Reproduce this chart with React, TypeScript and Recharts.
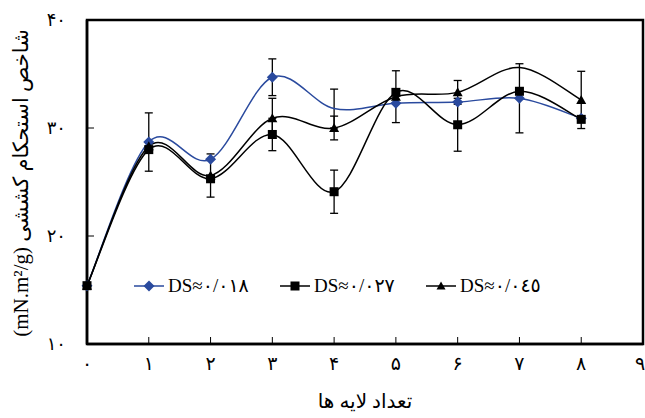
import { LineChart, Line, XAxis, YAxis, ErrorBar, ReferenceArea, Legend, Label } from "recharts";

const layers = [0, 1, 2, 3, 4, 5, 6, 7, 8];
const ds018 = [15.4, 28.7, 27.1, 34.7, 31.8, 32.3, 32.4, 32.75, 30.9];
const ds027 = [15.4, 28.0, 25.3, 29.4, 24.1, 33.3, 30.3, 33.4, 30.8];
const ds045 = [15.4, 28.3, 25.6, 30.9, 30.0, 32.9, 33.3, 35.6, 32.6];
const err018 = [null, 2.7, null, 1.7, 1.8, null, null, 3.2, null];
const err027 = [null, null, null, 1.5, 2.0, null, 2.45, null, null];
const err045 = [null, null, 2.0, 1.85, 1.1, 2.4, 1.1, null, 2.65];
// points drawn without a marker in the original figure
const noMark018 = [4];
const noMark045 = [7];

const xTicks = [0, 1, 2, 3, 4, 5, 6, 7, 8, 9];
const xTickLabels = ["۰", "۱", "۲", "۳", "۴", "۵", "۶", "۷", "۸", "۹"];
const yTicks = [10, 20, 30, 40];
const yTickLabels = ["۱۰", "۲۰", "۳۰", "۴۰"];
const legendNames = ["DS≈۰/۰۱۸", "DS≈۰/۰۲۷", "DS≈۰/۰٤٥"];

const data = layers.map((l, i) => ({
  layer: l,
  a: ds018[i],
  b: ds027[i],
  c: ds045[i],
  ea: err018[i],
  eb: err027[i],
  ec: err045[i],
}));

const BLUE = "#2a4a9e";
const FONT = "'Liberation Serif', 'DejaVu Serif', 'DejaVu Sans', serif";

// Catmull-Rom style smoothing (like spreadsheet "smoothed line")
function smoothCurve(context: any) {
  let pts: number[][] = [];
  return {
    areaStart() {},
    areaEnd() {},
    lineStart() {
      pts = [];
    },
    point(x: number, y: number) {
      pts.push([+x, +y]);
    },
    lineEnd() {
      const n = pts.length;
      if (!n) return;
      context.moveTo(pts[0][0], pts[0][1]);
      for (let i = 0; i < n - 1; i++) {
        const p0 = pts[Math.max(i - 1, 0)];
        const p1 = pts[i];
        const p2 = pts[i + 1];
        const p3 = pts[Math.min(i + 2, n - 1)];
        context.bezierCurveTo(
          p1[0] + (p2[0] - p0[0]) / 6,
          p1[1] + (p2[1] - p0[1]) / 6,
          p2[0] - (p3[0] - p1[0]) / 6,
          p2[1] - (p3[1] - p1[1]) / 6,
          p2[0],
          p2[1]
        );
      }
    },
  };
}

const diamond = (cx: number, cy: number, r = 5.5) =>
  `M${cx},${cy - r}L${cx + r},${cy}L${cx},${cy + r}L${cx - r},${cy}Z`;
const triangle = (cx: number, cy: number, r = 5) =>
  `M${cx},${cy - r}L${cx + r},${cy + r * 0.8}L${cx - r},${cy + r * 0.8}Z`;

const DiamondDot = (p: any) =>
  noMark018.includes(p.payload.layer) ? (
    <g key={p.index} />
  ) : (
    <path key={p.index} d={diamond(p.cx, p.cy)} fill={BLUE} />
  );
const SquareDot = (p: any) => (
  <rect key={p.index} x={p.cx - 4.5} y={p.cy - 4.5} width={9} height={9} fill="#000" />
);
const TriangleDot = (p: any) =>
  noMark045.includes(p.payload.layer) ? (
    <g key={p.index} />
  ) : (
    <path key={p.index} d={triangle(p.cx, p.cy)} fill="#000" />
  );

const LegendContent = () => {
  const marks = [
    <path d={diamond(16, 9)} fill={BLUE} />,
    <rect x={11.5} y={4.5} width={9} height={9} fill="#000" />,
    <path d={triangle(16, 9, 4.5)} fill="#000" />,
  ];
  const colors = [BLUE, "#000", "#000"];
  return (
    <div style={{ display: "flex", fontFamily: FONT, fontSize: 19, color: "#000" }}>
      {legendNames.map((name, i) => (
        <div key={name} style={{ display: "flex", alignItems: "center", width: 146 }}>
          <svg width={32} height={18}>
            <line x1={1} x2={31} y1={9} y2={9} stroke={colors[i]} strokeWidth={1.5} />
            {marks[i]}
          </svg>
          <span style={{ marginLeft: 3, lineHeight: "18px" }}>{name}</span>
        </div>
      ))}
    </div>
  );
};

const YTitle = () => (
  <text
    x={21}
    y={183}
    transform="rotate(-90 21 183)"
    textAnchor="middle"
    dominantBaseline="central"
    fontFamily={FONT}
    fontSize={21}
    fill="#000"
  >
    (mN.m²/g)  شاخص استحکام کششی
  </text>
);

export default function App() {
  return (
    <div style={{ position: "absolute", left: 0, top: 0, background: "#fff" }}>
      <LineChart
        width={645}
        height={418}
        data={data}
        margin={{ top: 20, right: 2, left: 0, bottom: 0 }}
      >
        <XAxis
          dataKey="layer"
          type="number"
          domain={[0, 9]}
          ticks={xTicks}
          tickFormatter={(v: number) => xTickLabels[xTicks.indexOf(v)]}
          height={74}
          tickSize={-7}
          tickMargin={20}
          axisLine={{ stroke: "#000", strokeWidth: 2.5 }}
          tickLine={{ stroke: "#000", strokeWidth: 1 }}
          tick={{ fill: "#000", fontSize: 19, fontFamily: FONT }}
        >
          <Label
            value="تعداد لایه ها"
            position="insideBottom"
            offset={10}
            style={{ fill: "#000", fontSize: 20, fontFamily: FONT }}
          />
        </XAxis>
        <YAxis
          type="number"
          domain={[10, 40]}
          ticks={yTicks}
          tickFormatter={(v: number) => yTickLabels[yTicks.indexOf(v)]}
          width={87}
          tickSize={-7}
          tickMargin={28}
          axisLine={{ stroke: "#000", strokeWidth: 2.5 }}
          tickLine={{ stroke: "#000", strokeWidth: 1 }}
          tick={{ fill: "#000", fontSize: 18, fontFamily: FONT }}
        >
          <Label content={<YTitle />} />
        </YAxis>
        <ReferenceArea
          x1={0}
          x2={9}
          y1={10}
          y2={40}
          fill="none"
          fillOpacity={0}
          stroke="#000"
          strokeWidth={2.5}
        />
        <Legend
          layout="horizontal"
          verticalAlign="middle"
          align="center"
          content={<LegendContent />}
          wrapperStyle={{ top: 277, left: 133, width: 470, height: 20 }}
        />
        <Line
          dataKey="a"
          type={smoothCurve as any}
          stroke={BLUE}
          strokeWidth={1.5}
          dot={DiamondDot}
          activeDot={false}
          isAnimationActive={false}
        >
          <ErrorBar dataKey="ea" width={4} stroke="#000" strokeWidth={1.3} direction="y" isAnimationActive={false} />
        </Line>
        <Line
          dataKey="c"
          type={smoothCurve as any}
          stroke="#000"
          strokeWidth={1.5}
          dot={TriangleDot}
          activeDot={false}
          isAnimationActive={false}
        >
          <ErrorBar dataKey="ec" width={4} stroke="#000" strokeWidth={1.3} direction="y" isAnimationActive={false} />
        </Line>
        <Line
          dataKey="b"
          type={smoothCurve as any}
          stroke="#000"
          strokeWidth={1.5}
          dot={SquareDot}
          activeDot={false}
          isAnimationActive={false}
        >
          <ErrorBar dataKey="eb" width={4} stroke="#000" strokeWidth={1.3} direction="y" isAnimationActive={false} />
        </Line>
      </LineChart>
    </div>
  );
}
